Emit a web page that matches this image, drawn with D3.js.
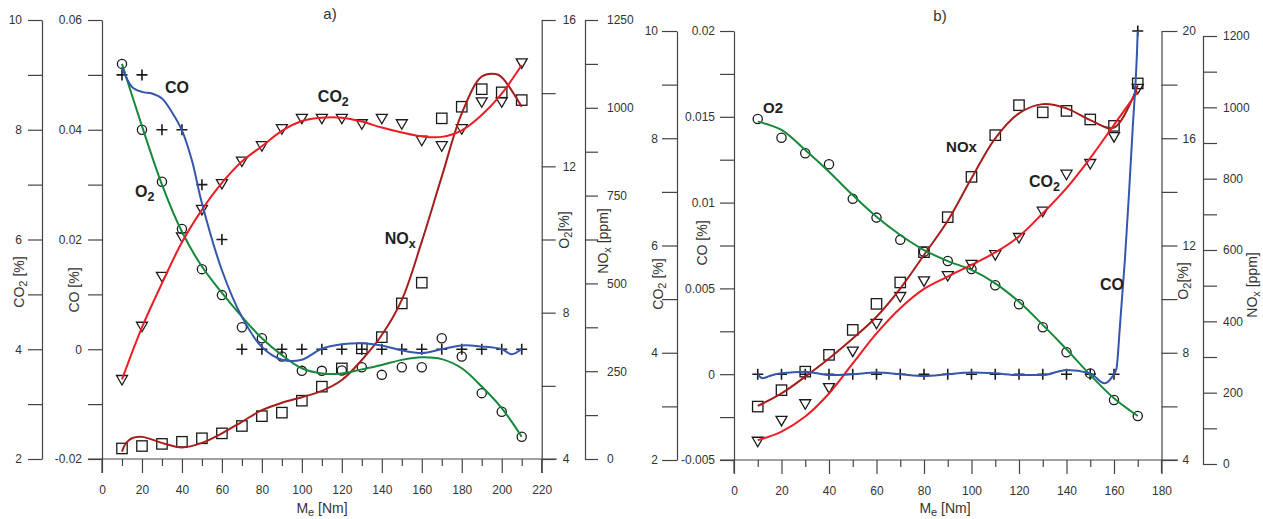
<!DOCTYPE html>
<html><head><meta charset="utf-8">
<script src="https://cdn.jsdelivr.net/npm/d3@7"></script>
<style>
body{margin:0;background:#fff;}
svg{display:block;font-family:"Liberation Sans",Arial,Helvetica,sans-serif;}
</style></head><body>
<svg id="c" width="1263" height="519"></svg>
<script>
// ---------- Panel a) data ----------
const aX = [10,20,30,40,50,60,70,80,90,100,110,120,130,140,150,160,170,180,190,200,210];
const aCO  = [0.05,0.05,0.04,0.04,0.03,0.02,0,0,0,0,0,0,0,0,0,0,0,0,0,0,0];
const aO2  = [14.8,13.0,11.58,10.29,9.19,8.48,7.6,7.3,6.8,6.41,6.41,6.42,6.51,6.3,6.51,6.51,7.3,6.8,5.8,5.29,4.61];
const aCO2 = [3.44,4.41,5.32,6.04,6.54,7.01,7.42,7.70,8.01,8.20,8.20,8.20,8.10,8.20,8.10,7.80,7.70,8.01,8.50,8.50,9.21];
const aNOx = [30,37,43,49,59,73,94,122,132,166,206,258,315,347,443,502,970,1003,1053,1044,1022];
// fitted curves
const aCOfit  = [[10,0.0514],[15,0.0478],[20,0.0469],[25,0.0466],[30,0.0457],[35,0.0432],[40,0.0399],[45,0.0344],[50,0.0266],[60,0.0144],[70,0.0059],[80,0.0004],[90,-0.0019],[100,-0.0019],[110,0.0001],[120,0.0009],[130,0.0011],[140,0.0007],[150,-0.0002],[160,-0.0007],[170,0],[180,0.0007],[190,0.0005],[200,0],[205,-0.0009],[210,0.0001]];
const aO2fit  = [[10,14.8],[20,13.1],[30,11.5],[40,10.21],[50,9.26],[60,8.54],[70,7.89],[80,7.30],[90,6.84],[100,6.48],[110,6.34],[120,6.34],[130,6.45],[140,6.57],[150,6.71],[160,6.78],[170,6.73],[180,6.48],[190,5.98],[200,5.39],[210,4.61]];
const aCO2fit = [[10,3.45],[20,4.4],[30,5.2],[40,5.95],[50,6.54],[60,7.03],[70,7.42],[80,7.70],[90,7.98],[100,8.16],[110,8.22],[120,8.22],[130,8.15],[140,8.04],[150,7.95],[160,7.88],[170,7.87],[180,7.99],[190,8.27],[200,8.66],[210,9.18]];
const aNOxfit = [[10,21],[12,45],[15,59],[20,63],[30,46],[40,33],[50,46],[60,73],[70,106],[80,139],[90,160],[100,176],[110,194],[120,225],[130,282],[140,353],[150,453],[160,619],[170,804],[180,984],[190,1089],[197,1096],[200,1087],[210,1003]];
const aXTicks = [0,20,40,60,80,100,120,140,160,180,200,220];
const aCO2Ticks = [2,4,6,8,10];
const aCOTicks = [-0.02,0,0.02,0.04,0.06];
const aO2Ticks = [4,8,12,16];
const aNOxTicks = [0,250,500,750,1000,1250];

// ---------- Panel b) data ----------
const bX = [10,20,30,40,50,60,70,80,90,100,110,120,130,140,150,160,170];
const bCO  = [0,0,0,0,0,0,0,0,0,0,0,0,0,0,0,0,0.02];
const bO2  = [16.72,16.02,15.44,15.03,13.74,13.04,12.21,11.77,11.42,11.12,10.52,9.81,8.95,8.02,7.23,6.24,5.64];
const bCO2 = [2.34,2.73,3.04,3.34,4.02,4.54,5.04,5.33,5.43,5.64,5.82,6.14,6.63,7.32,7.52,8.02,8.92];
const bNOx = [161,207,259,306,376,449,509,594,692,805,922,1006,986,990,966,948,1067];
const bCOfit  = [[10,0],[12,-0.00024],[15,-0.0001],[20,0.00005],[30,0.00015],[40,-0.00005],[50,0],[60,0.0001],[70,0],[80,-0.0001],[90,0],[100,0.0001],[110,0.00005],[120,-0.00005],[130,-0.00005],[140,0.00025],[150,0.00005],[156,-0.00053],[159,-0.0002],[161,0.0003],[162.5,0.0028],[164.6,0.0067],[166.3,0.0105],[167.9,0.0144],[169.6,0.0185],[170,0.02]];
const bO2fit  = [[10,16.62],[20,16.31],[30,15.56],[40,14.75],[50,13.88],[60,13.07],[70,12.39],[80,11.83],[90,11.42],[100,11.09],[110,10.59],[120,9.9],[130,9.04],[140,8.13],[150,7.17],[160,6.3],[170,5.64]];
const bCO2fit = [[10,2.37],[20,2.53],[30,2.81],[40,3.24],[50,3.8],[60,4.36],[70,4.83],[80,5.19],[90,5.42],[100,5.64],[110,5.87],[120,6.17],[130,6.6],[140,7.07],[150,7.63],[160,8.25],[170,8.87]];
const bNOxfit = [[10,163],[20,198],[30,245],[40,296],[50,352],[60,413],[70,492],[80,586],[90,682],[100,801],[110,913],[120,983],[130,1009],[140,997],[150,964],[160,943],[170,1062]];
const bXTicks = [0,20,40,60,80,100,120,140,160,180];
const bCO2Ticks = [2,4,6,8,10];
const bCOTicks = [-0.005,0,0.005,0.01,0.015,0.02];
const bO2Ticks = [4,8,12,16,20];
const bNOxTicks = [0,200,400,600,800,1000,1200];

// ---------- styles ----------
const C_CO = "#3556ad", C_O2 = "#15883a", C_CO2 = "#ec1c24", C_NOX = "#a51d1d";
const AX = "#444", TXT = "#333";

const svg = d3.select("#c");
const fmt = v => String(+v.toFixed(4));

function minorVals(ticks, n){
  const out=[]; for(let i=0;i<ticks.length-1;i++){const s=(ticks[i+1]-ticks[i])/n; for(let k=0;k<n;k++) out.push(ticks[i]+k*s);} out.push(ticks[ticks.length-1]); return out;
}

function styleAxis(g){
  g.selectAll("path.domain").attr("stroke",AX).attr("stroke-width",1.2);
  g.selectAll(".tick line").attr("stroke",AX).attr("stroke-width",1.2);
  g.selectAll(".tick text").attr("fill",TXT).attr("font-size","12px").attr("font-family","Liberation Sans, Arial, sans-serif");
}

function vAxis(side, scale, x, majors, nMinor, size, pad){
  const all = minorVals(majors, nMinor);
  const ax = (side==="left"?d3.axisLeft(scale):d3.axisRight(scale))
    .tickValues(all).tickSize(size).tickSizeOuter(0).tickPadding(pad)
    .tickFormat(v => majors.some(m=>Math.abs(m-v)<1e-9) ? fmt(v) : "");
  const g = svg.append("g").attr("transform",`translate(${x},0)`).call(ax);
  styleAxis(g);
  return g;
}

function rotTitle(x, y, parts){
  const t = svg.append("text").attr("transform",`translate(${x},${y}) rotate(-90)`)
    .attr("text-anchor","middle").attr("dy","0.35em").attr("font-size","14px").attr("fill",TXT);
  parts.forEach(p=>{ const s=t.append("tspan").text(p[0]); if(p[1]){s.attr("font-size","11px").attr("baseline-shift","-3");} });
}

function label(x, y, parts, size){
  const t = svg.append("text").attr("x",x).attr("y",y).attr("font-weight","bold").attr("font-size",(size||16)+"px").attr("fill","#222");
  parts.forEach(p=>{ const s=t.append("tspan").text(p[0]); if(p[1]){s.attr("font-size",((size||16)*0.78)+"px").attr("baseline-shift","-4");} });
}

function markers(xs, ys, xs_, ys_, type){
  const g = svg.append("g").attr("fill","none").attr("stroke","#1a1a1a").attr("stroke-width",1.3);
  xs.forEach((xv,i)=>{
    const px = xs_(xv), py = ys_(ys[i]);
    if(type==="circle") g.append("circle").attr("cx",px).attr("cy",py).attr("r",4.6);
    else if(type==="square") g.append("rect").attr("x",px-5.2).attr("y",py-5.2).attr("width",10.4).attr("height",10.4);
    else if(type==="tri") g.append("path").attr("d",`M${px-5.5},${py-4.5}L${px+5.5},${py-4.5}L${px},${py+5}Z`);
    else if(type==="plus") g.append("path").attr("d",`M${px-5.5},${py}H${px+5.5}M${px},${py-5.5}V${py+5.5}`).attr("stroke-width",1.6);
  });
}

function curve(pts, xs_, ys_, color, mono){
  const line = d3.line().x(d=>xs_(d[0])).y(d=>ys_(d[1])).curve(mono?d3.curveMonotoneX:d3.curveCatmullRom.alpha(0.5));
  svg.append("path").attr("d",line(pts)).attr("fill","none").attr("stroke",color).attr("stroke-width",2);
}

function xAxis(scale, y, majors, leftEnd, rightEnd){
  const minors = minorVals(majors,2).filter(v=>!majors.includes(v));
  const gMin = svg.append("g").attr("transform",`translate(0,${y})`).call(d3.axisBottom(scale).tickValues(minors).tickSize(7).tickSizeOuter(0).tickFormat(""));
  gMin.select("path.domain").remove(); styleAxis(gMin);
  const gMaj = svg.append("g").attr("transform",`translate(0,${y})`).call(d3.axisBottom(scale).tickValues(majors).tickSize(14).tickSizeOuter(0).tickPadding(12).tickFormat(fmt));
  gMaj.select("path.domain").remove(); styleAxis(gMaj);
  svg.append("line").attr("x1",leftEnd).attr("x2",rightEnd).attr("y1",y).attr("y2",y).attr("stroke",AX).attr("stroke-width",1.2);
}

function xTitle(x, y){
  const t = svg.append("text").attr("x",x).attr("y",y).attr("text-anchor","middle").attr("font-size","14px").attr("fill",TXT);
  t.append("tspan").text("M");
  t.append("tspan").text("e").attr("font-size","11px").attr("baseline-shift","-3");
  t.append("tspan").text(" [Nm]");
}

// ================= Panel a =================
{
  const x = d3.scaleLinear([0,220],[102,541.7]);
  const yCO2 = d3.scaleLinear([2,10],[459,20]);
  const yCO  = d3.scaleLinear([-0.02,0.06],[459,20]);
  const yO2  = d3.scaleLinear([4,16],[459,20]);
  const yNOx = d3.scaleLinear([0,1250],[459,20]);

  xAxis(x, 459, aXTicks, 88, 557);
  vAxis("left", yCO2, 42, aCO2Ticks, 2, 14, 6);
  vAxis("left", yCO, 102, aCOTicks, 2, 14, 6);
  vAxis("right", yO2, 541.7, aO2Ticks, 2, 14, 7);
  vAxis("right", yNOx, 585, aNOxTicks, 2, 13, 9);
  [0,220].forEach(v=>svg.append("line").attr("x1",x(v)).attr("x2",x(v)).attr("y1",459).attr("y2",473).attr("stroke",AX).attr("stroke-width",1.2));

  rotTitle(19, 282, [["CO"],["2",1],[" [%]"]]);
  rotTitle(74, 290, [["CO [%]"]]);
  rotTitle(564, 230, [["O"],["2",1],["[%]"]]);
  rotTitle(603, 241, [["NO"],["x",1],[" [ppm]"]]);
  xTitle(322, 513);
  svg.append("text").attr("x",330).attr("y",19).attr("text-anchor","middle").attr("font-size","15px").attr("fill",TXT).text("a)");

  markers(aX, aCO, x, yCO, "plus");
  markers(aX, aO2, x, yO2, "circle");
  markers(aX, aCO2, x, yCO2, "tri");
  markers(aX, aNOx, x, yNOx, "square");
  curve(aNOxfit, x, yNOx, C_NOX);
  curve(aO2fit, x, yO2, C_O2);
  curve(aCO2fit, x, yCO2, C_CO2);
  curve(aCOfit, x, yCO, C_CO);

  label(x(31.5), 93, [["CO"]]);
  label(x(108), 102, [["CO"],["2",1]]);
  label(x(16.5), 197, [["O"],["2",1]]);
  label(x(141.5), 244, [["NO"],["x",1]]);
}

// ================= Panel b =================
{
  const x = d3.scaleLinear([0,180],[734,1161.5]);
  const yCO2 = d3.scaleLinear([2,10],[460,31]);
  const yCO  = d3.scaleLinear([-0.005,0.02],[460,31]);
  const yO2  = d3.scaleLinear([4,20],[460,31]);
  const yNOx = d3.scaleLinear([0,1200],[464,36]);

  xAxis(x, 460, bXTicks, 720, 1178);
  vAxis("left", yCO2, 677, bCO2Ticks, 2, 15, 4);
  vAxis("left", yCO, 734, bCOTicks, 2, 14, 5);
  vAxis("right", yO2, 1161.5, bO2Ticks, 2, 16, 5);
  vAxis("right", yNOx, 1203, bNOxTicks, 2, 14, 6);
  [0,180].forEach(v=>svg.append("line").attr("x1",x(v)).attr("x2",x(v)).attr("y1",460).attr("y2",473).attr("stroke",AX).attr("stroke-width",1.2));

  rotTitle(658, 284, [["CO"],["2",1],[" [%]"]]);
  rotTitle(702, 243, [["CO [%]"]]);
  rotTitle(1183, 281, [["O"],["2",1],["[%]"]]);
  rotTitle(1252, 285, [["NO"],["x",1],[" [ppm]"]]);
  xTitle(945, 513);
  svg.append("text").attr("x",940).attr("y",21).attr("text-anchor","middle").attr("font-size","15px").attr("fill",TXT).text("b)");

  markers(bX, bCO, x, yCO, "plus");
  markers(bX, bO2, x, yO2, "circle");
  markers(bX, bCO2, x, yCO2, "tri");
  markers(bX, bNOx, x, yNOx, "square");
  curve(bNOxfit, x, yNOx, C_NOX);
  curve(bO2fit, x, yO2, C_O2);
  curve(bCO2fit, x, yCO2, C_CO2);
  curve(bCOfit, x, yCO, C_CO, true);

  label(x(12.2), 113, [["O2"]], 15);
  label(x(89.3), 152, [["NOx"]], 15);
  label(x(124.2), 187, [["CO"],["2",1]], 16);
  label(x(154.1), 290, [["CO"]], 16);
}
</script>
</body></html>
